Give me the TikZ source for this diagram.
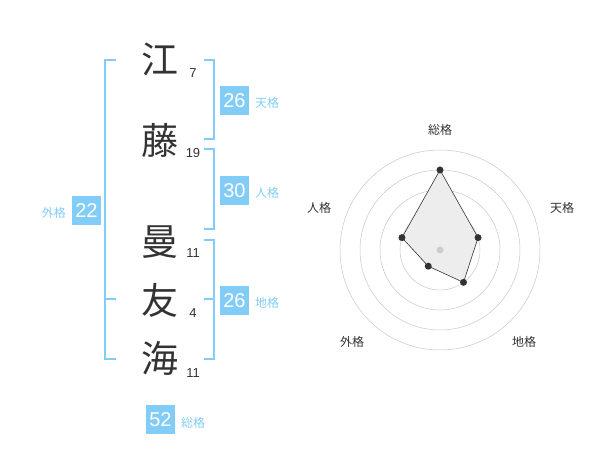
\documentclass[tikz,border=0pt]{standalone}
\usepackage{fontspec}
\setmainfont{Liberation Sans}
\newfontfamily\jp{Noto Sans CJK JP}
\definecolor{lb}{HTML}{82CDF7}
\definecolor{ink}{HTML}{333333}
\begin{document}
\begin{tikzpicture}[x=1pt,y=-1pt,
  kanji/.style={font=\jp\fontsize{37}{37}\selectfont, text=ink, inner sep=0pt},
  stroke/.style={font=\fontsize{13}{13}\selectfont, text=ink, inner sep=0pt},
  brk/.style={draw=lb, line width=1.8pt},
  vbox/.style={fill=lb, text=white, minimum width=29pt, minimum height=29pt, inner sep=0pt, font=\fontsize{20}{20}\selectfont},
  vlab/.style={text=lb, font=\jp\fontsize{12}{12}\selectfont, inner sep=0pt},
  rlab/.style={text=ink, font=\jp\fontsize{12}{12}\selectfont, inner sep=0pt},
  ring/.style={draw=black!22, line width=0.5pt},
  dot/.style={circle, fill=ink, minimum size=7pt, inner sep=0pt}]
\useasboundingbox (0,0) rectangle (600,470);
% characters
\node[kanji] (c1) at (160,59) {江};
\node[kanji] (c2) at (160,140) {藤};
\node[kanji] (c3) at (160,242) {曼};
\node[kanji] (c4) at (160,300) {友};
\node[kanji] (c5) at (160,358) {海};
\node[stroke] (n1) at (193,73) {7};
\node[stroke] (n2) at (193,153) {19};
\node[stroke] (n3) at (193,253) {11};
\node[stroke] (n4) at (193,313) {4};
\node[stroke] (n5) at (193,373) {11};
% brackets
\draw[brk] (116,60) -- (105,60) -- (105,359) -- (116,359);
\draw[brk] (105,299) -- (116,299);
\draw[brk] (204,60) -- (214,60) -- (214,139) -- (204,139);
\draw[brk] (204,149) -- (214,149) -- (214,229) -- (204,229);
\draw[brk] (204,240) -- (214,240) -- (214,359) -- (204,359);
\draw[brk] (204,299) -- (214,299);
% value boxes
\node[vbox] (ten) at (234.5,100.5) {26};
\node[vlab, anchor=west] (tenl) at (255,103) {天格};
\node[vbox] (jin) at (234.5,190.5) {30};
\node[vlab, anchor=west] (jinl) at (255,193) {人格};
\node[vbox] (chi) at (234.5,300.5) {26};
\node[vlab, anchor=west] (chil) at (255,303) {地格};
\node[vbox] (gai) at (86.5,210.5) {22};
\node[vlab, anchor=east] (gail) at (66,213) {外格};
\node[vbox] (sou) at (160.5,419.5) {52};
\node[vlab, anchor=west] (soul) at (181,423) {総格};
% radar
\coordinate (O) at (440,250);
\foreach \r in {20,40,60,80,100} \draw[ring] (O) circle (\r);
\path (O) ++(0,-80) coordinate (p1);
\path (O) ++({40*cos(18)},{-40*sin(18)}) coordinate (p2);
\path (O) ++({40*cos(54)},{40*sin(54)}) coordinate (p3);
\path (O) ++({-20*cos(54)},{20*sin(54)}) coordinate (p4);
\path (O) ++({-40*cos(18)},{-40*sin(18)}) coordinate (p5);
\fill[black!7] (p1) -- (p2) -- (p3) -- (p4) -- (p5) -- cycle;
\draw[ink, line width=0.6pt] (p1) -- (p2) -- (p3) -- (p4) -- (p5) -- cycle;
\foreach \p in {p1,p2,p3,p4,p5} \node[dot] at (\p) {};
\node[circle, fill=black!20, minimum size=7pt, inner sep=0pt] (cen) at (O) {};
\node[rlab] (r1) at (440,130) {総格};
\node[rlab] (r2) at (562,208) {天格};
\node[rlab] (r3) at (524,342) {地格};
\node[rlab] (r4) at (352,342) {外格};
\node[rlab] (r5) at (319,208) {人格};
\end{tikzpicture}
\end{document}
